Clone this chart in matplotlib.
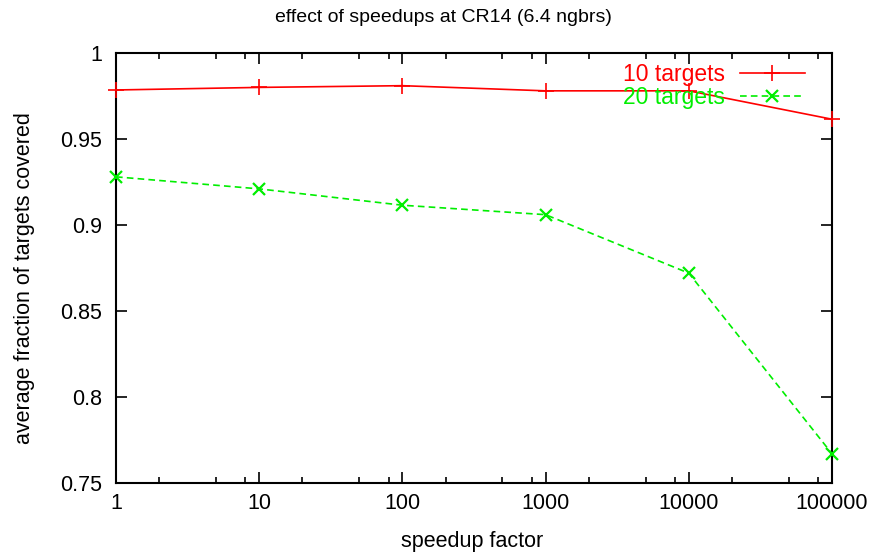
import matplotlib
matplotlib.use("Agg")
import matplotlib.pyplot as plt
from matplotlib.ticker import FixedLocator, NullFormatter

speedup = [1, 10, 100, 1000, 10000, 100000]
targets10 = [0.9785, 0.980, 0.981, 0.978, 0.978, 0.9615]
targets20 = [0.928, 0.921, 0.9115, 0.906, 0.872, 0.767]
xtick_labels = ["1", "10", "100", "1000", "10000", "100000"]
ytick_vals = [0.75, 0.8, 0.85, 0.9, 0.95, 1.0]
ytick_labels = ["0.75", "0.8", "0.85", "0.9", "0.95", "1"]

W, H = 876, 554
plt.rcParams['font.family'] = ['Liberation Sans', 'DejaVu Sans']
fig = plt.figure(figsize=(W/100, H/100), dpi=100)
ax = fig.add_axes([116/W, 1-483/H, (832-116)/W, (483-53)/H])

ax.plot(speedup, targets10, color='#ff0000', lw=1.2, marker='+', ms=11, mew=1.2,
        label='10 targets', clip_on=False, zorder=3)
ax.plot(speedup, targets20, color='#00ee00', lw=1.2, ls=(0, (4, 2.5)), marker='x', ms=8, mew=1.6,
        label='20 targets', clip_on=False, zorder=3)

ax.set_xscale('log')
ax.set_xlim(1, 100000)
ax.set_ylim(0.75, 1.0)
ax.xaxis.set_major_locator(FixedLocator(speedup))
ax.set_xticklabels(xtick_labels)
minors = [m * 10**k for k in range(5) for m in (2, 5, 8)]
ax.xaxis.set_minor_locator(FixedLocator(minors))
ax.xaxis.set_minor_formatter(NullFormatter())
ax.set_yticks(ytick_vals)
ax.set_yticklabels(ytick_labels)
ax.tick_params(which='both', direction='in', top=True, right=True, labelsize=15.5, width=1.2)
ax.tick_params(axis='x', pad=7)
ax.tick_params(axis='y', pad=10)
ax.tick_params(which='major', length=8)
ax.tick_params(which='minor', length=4.5)
ax.tick_params(axis='y', which='minor', left=False, right=False)
for s in ax.spines.values():
    s.set_linewidth(1.5)

fig.text(443/W, 1-18/H, 'effect of speedups at CR14 (6.4 ngbrs)', fontsize=14,
         ha='center', va='center')
fig.text(472/W, 1-542/H, 'speedup factor', fontsize=15.5, ha='center', va='center')
fig.text(25/W, 1-278/H, 'average fraction of targets covered', fontsize=15.5,
         ha='center', va='center', rotation=90)

leg = ax.legend(loc='upper right', bbox_to_anchor=(805/W, 1-63/H), bbox_transform=fig.transFigure,
                frameon=False, markerfirst=False, labelcolor='linecolor', fontsize=16.5,
                handlelength=2.85, handletextpad=0.64, labelspacing=0.0,
                borderaxespad=0, borderpad=0)

fig.savefig('out.png', dpi=100)
